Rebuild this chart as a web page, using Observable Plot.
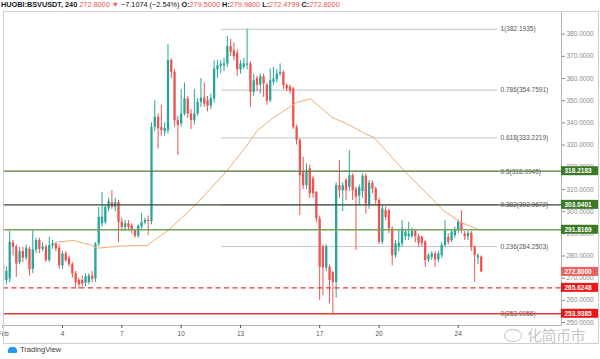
<!DOCTYPE html>
<html><head><meta charset="utf-8">
<script src="https://cdn.jsdelivr.net/npm/d3@7"></script>
<script src="https://cdn.jsdelivr.net/npm/@observablehq/plot@0.6"></script>
<style>
body{margin:0;background:#fff;}
#wrap{position:relative;width:600px;height:359px;overflow:hidden;font-family:"Liberation Sans",Arial,sans-serif;background:#fff;}
#chart{position:absolute;left:0;top:0;}
#outer{position:absolute;left:3px;top:11px;width:594px;height:331px;border:1px solid #cfcfcf;pointer-events:none;}
#hdr{position:absolute;left:1px;top:0;font-size:7.3px;line-height:9px;white-space:nowrap;color:#131722;}
#hdr b{font-weight:bold;}
#hdr .r{color:#ef5350;}
#foot{position:absolute;left:8px;top:345px;font-size:7.5px;line-height:10px;color:#3b3b3b;white-space:nowrap;}
#logo{display:inline-block;width:9px;height:6px;background:#2196f3;border-radius:4px 4px 1px 1px;margin-right:3px;vertical-align:-1px;}
#wm{position:absolute;left:527px;top:326px;font-family:"Noto Sans CJK SC",sans-serif;font-size:15px;line-height:17px;color:rgba(110,110,110,0.42);letter-spacing:-0.5px;white-space:nowrap;}
#wmi{position:absolute;left:504px;top:329px;width:16px;height:11px;border:1.3px solid rgba(110,110,110,0.42);border-radius:50%;}
</style></head><body>
<div id="wrap">
  <div id="chart"></div>
  <div id="outer"></div>
  <div id="hdr"></div>
  <div id="wmi"></div>
  <div id="wm"></div>
  <div id="foot"><span id="logo"></span><span id="tv"></span></div>
</div>
<script>
// ---------- data ----------
const symbolTitle = "HUOBI:BSVUSDT, 240";
const changeText = "\u22127.1074 (\u22122.54%)";
const watermarkText = "化简币市";
const footerText = "TradingView";
const startUTC = [2020, 1, 1, 0];   // Feb 1, 00:00 UTC
const barHours = 4;

const open  = [276,269,269.6,286,284,277,282,279,283,274,282.7,287,283,284,278,284.5,285.5,283.5,275.6,281,279,276,272,269,269,267.6,268,271,269.6,285.4,294.5,295.2,301.2,304,302,304,295.2,292.9,294.5,293.5,291.5,289,293,295,296,295.5,338,342.5,338,336,336.5,368.1,362.8,341,339.5,344,350.8,344,341,344,349.3,351.2,350,347.5,350.8,364,365.5,365.8,366.6,374.4,372.5,371.4,363.9,365,366,366.6,353.8,360,357,360.8,357,350,358.3,359.5,362,362.8,356.8,356,355.3,338,332,317.5,311.7,319.3,314.8,308.7,296.7,284,274.6,275,272.5,268,311.7,309.4,314,310.9,316.2,310,307,309,316,302.7,312.8,310.2,305,286.2,300.4,300.4,292.2,280.1,284,285.4,288.7,288.7,288.7,291.1,288.7,288.4,286.2,278.2,279.4,280.9,278.2,280.1,284.7,288.4,286.9,289.2,291.4,295.2,289.9,288.7,290.2,283.9,279.1,279.5];
const high  = [278,275,291.1,287,285,284,284,285,284,291.4,288,288,286,285,288.4,287,286,285,282,282,280,277,273,270,271,272,272,273,286,301.9,308.7,303,306,309.5,306,305,297,296,296,294.5,292,294,299.2,297,298,340,350,344,348,340,375.3,369,364,343,355,358,352,346,355,351,360,358,352,353,368,368.1,368,369,379,377.6,376,373,368,369,382.2,367.5,362,361,362,362,358,364.3,365,364,366.6,363.5,357.5,357,356,339,333,324.5,321.5,321,316,309,298,285,285,276,273,313,323,313,315,327.5,317,311,312,317,317,314,314,311,306,303,302,301,293,287,291.5,295.9,292,295.2,292.5,292,290,289,287,281,282,282,282,286,295.9,290,292,293,296.2,300.4,291,291,291,284.5,281,279.98];
const low   = [268,267,268,280,270.4,276,277,278,271,272,281,281,282,277,277,283,282,274,274,277,275,270,265.9,265,266,266,267,268,268,284,293,294,300,301,300,286,291,291,291,290,288,288,292,294,289.2,294,336,328.2,334,334,335,360,338,325.4,338,343,342,337,339,343,347,347,345,346,349,360,362,363,365,370,368,361,362,364,364,347,352,354,353,351.5,348,349,357,358,361,355,354,353,337,330,298.2,310,310,306,306,295,260,262,273,258.4,254,261,306,300,305,309,305,282.4,303,306,298.9,301,308,303,285,285,296,290,275.6,279,282,284,287,287,288,286,284,284,274.9,277,278,274.9,277,279,284,285,286,288,290,290,287,287,282,268.1,276,272.4799];
const close = [269,273,286.2,284,276.4,282,279,283.5,273.7,282.7,286.9,283,284,278,284.7,285.5,283.2,275.6,280.9,278,276,271.9,268,267,267.3,270.6,271,269.5,285.4,297.4,297.4,301.9,304.5,302,304,295.2,292.9,294.5,293,291.5,289,293.5,295,296,295.5,338,342.5,337.3,336.5,337.5,368.1,362.8,341,338.8,344,350.8,344,341,344,349.3,351.2,348.5,347.5,351,364.3,365.8,366.5,366.6,374.4,371.8,369.8,363.9,366.6,366.6,366.6,353.8,359,357,360.8,357.5,349.7,359,359.8,362,362.8,356.8,355.3,354.3,338,332,316.2,311.7,318.2,308,308,296.7,274.9,274.6,284,268.9,268,311.7,309.4,311.7,309.4,316.2,309.4,306.5,310.9,316,303.5,312.8,310.2,305,286.2,301.2,297.4,292.2,280.1,285.4,285.7,292.2,290.7,289.9,291.1,288.7,285.7,285.7,277.9,280.1,280.9,278.2,280.9,284.7,291.7,286.2,290.7,291.4,295.2,291.4,288.7,290.2,283.9,280.1,280.1,272.8];

// moving average: day-of-February and value
const maDay   = [3.648,4.558,5.418,5.771,6.934,8.283,9.375,10.725,12.291,13.252,13.843,14.682,15.865,16.537,17.634,18.559,19.317,19.736,20.414,21.424,22.436,23.275,24.119,24.963];
const maValue = [286.2,287,285,283.5,284.5,284.7,291.8,303,318.2,329,336.5,342.5,349.3,350.8,342.5,338.8,335,333.5,326.8,317,308,300.4,295.2,292.2];

// Fibonacci retracement
const fibLevels = ["1","0.786","0.618","0.5","0.382","0.236","0"];
const fibValues = [382.1935,354.7591,333.2219,318.0945,302.9672,284.2503,253.9956];
const fibDays = [12.04, 25.99];

// horizontal drawings
const hlineValues = [318.2183,303.0401,291.8169,265.6248,253.9385];
const hlineColors = ["#557d3a","#3a4a32","#74a65a","#e53935","#e53935"];
const hlineDashed = [false,false,false,true,false];
const labelValues = [318.2183,303.0401,291.8169,272.8,265.6248,253.9385];
const labelColors = ["#3b7a25","#3b7a25","#3b7a25","#ec6161","#f01414","#f01414"];

// axes
const yTicks = [250,260,270,280,290,300,310,320,330,340,350,360,370,380];
const xTickDays = [1,4,7,10,13,17,20,24];
const xTickLabels = ["Feb","4","7","10","13","17","20","24"];
const xDomainDays = [1.0202, 29.223];
const yDomain = [248.65, 390.22];

// ---------- build ----------
const t0 = Date.UTC(startUTC[0], startUTC[1], startUTC[2], startUTC[3]);
const dayToDate = d => new Date(Date.UTC(2020,1,1) + (d - 1) * 864e5);
const candles = open.map((o, i) => ({t: new Date(t0 + i * barHours * 3600e3), o, h: high[i], l: low[i], c: close[i]}));
const GREEN = "#26a69a", RED = "#ef5350";
const col = d => d.c >= d.o ? GREEN : RED;
const ma = maDay.map((d, i) => ({t: dayToDate(d), v: maValue[i]}));
const fib = fibLevels.map((l, i) => ({level: l, v: fibValues[i]}));
const hlines = hlineValues.map((v, i) => ({v, color: hlineColors[i], dashed: hlineDashed[i]}));
const xTickDates = xTickDays.map(dayToDate);

const chart = Plot.plot({
  width: 600, height: 359,
  marginLeft: 3, marginRight: 39, marginTop: 11, marginBottom: 34,
  style: {background: "transparent", fontFamily: "Liberation Sans, Arial, sans-serif", overflow: "visible"},
  x: {type: "utc", domain: xDomainDays.map(dayToDate)},
  y: {domain: yDomain},
  color: {type: "identity"},
  marks: [
    Plot.ruleY(fib, {y: "v", x1: dayToDate(fibDays[0]), x2: dayToDate(fibDays[1]), stroke: "#c6c6c6", strokeWidth: 1}),
    Plot.text(fib, {y: "v", x: dayToDate(fibDays[1]), text: d => `${d.level}(${d.v.toFixed(4)})`, textAnchor: "start", dx: 3, fontSize: 6.5, fill: "#555"}),
    Plot.ruleX(candles, {x: "t", y1: "l", y2: "h", stroke: col, strokeWidth: 1, clip: true}),
    Plot.ruleX(candles, {x: "t", y1: "o", y2: "c", stroke: col, strokeWidth: 2.3, clip: true}),
    Plot.line(ma, {x: "t", y: "v", stroke: "#efab70", strokeWidth: 1}),
    Plot.ruleY(hlines.filter(d => !d.dashed), {y: "v", stroke: "color", strokeWidth: 1.3}),
    Plot.ruleY(hlines.filter(d => d.dashed), {y: "v", stroke: "color", strokeWidth: 1.3, strokeDasharray: "5,3.5"}),
    Plot.frame({stroke: "#b5b5b5"}),
    Plot.axisY({anchor: "right", ticks: yTicks, tickFormat: d => d.toFixed(4), tickSize: 3, tickPadding: 2, fontSize: 6.5, color: "#8a8a8a", label: null}),
    Plot.axisX({ticks: xTickDates, tickFormat: (d, i) => xTickLabels[i], tickSize: 3, tickPadding: 3, fontSize: 6.5, color: "#555", label: null})
  ]
});
document.getElementById("chart").appendChild(chart);

// price labels on the right axis, positioned with the plot's y scale
const ys = chart.scale("y");
const g = d3.select(chart).append("g").attr("text-anchor", "start");
labelValues.forEach((v, i) => {
  const y = ys.apply(v);
  g.append("rect").attr("x", 561).attr("y", y - 4.5).attr("width", 37).attr("height", 9).attr("fill", labelColors[i]);
  g.append("text").attr("x", 564.5).attr("y", y).attr("dy", "0.35em").attr("fill", "#fff")
    .attr("text-anchor", "start").style("text-anchor", "start")
    .attr("font-size", 6.5).attr("font-weight", "bold").attr("font-family", "Liberation Sans, Arial, sans-serif").text(v.toFixed(4));
});

// header
const last = candles[candles.length - 1];
const f4 = v => v.toFixed(4);
document.getElementById("hdr").innerHTML =
  `<b>${symbolTitle}</b> <span class="r">${f4(last.c)}</span> <span class="r">▼</span> ${changeText} ` +
  `<b>O:</b><span class="r">${f4(last.o)}</span> <b>H:</b><span class="r">${f4(last.h)}</span> ` +
  `<b>L:</b><span class="r">${f4(last.l)}</span> <b>C:</b><span class="r">${f4(last.c)}</span>`;
document.getElementById("wm").textContent = watermarkText;
document.getElementById("tv").textContent = footerText;
</script>
</body></html>
